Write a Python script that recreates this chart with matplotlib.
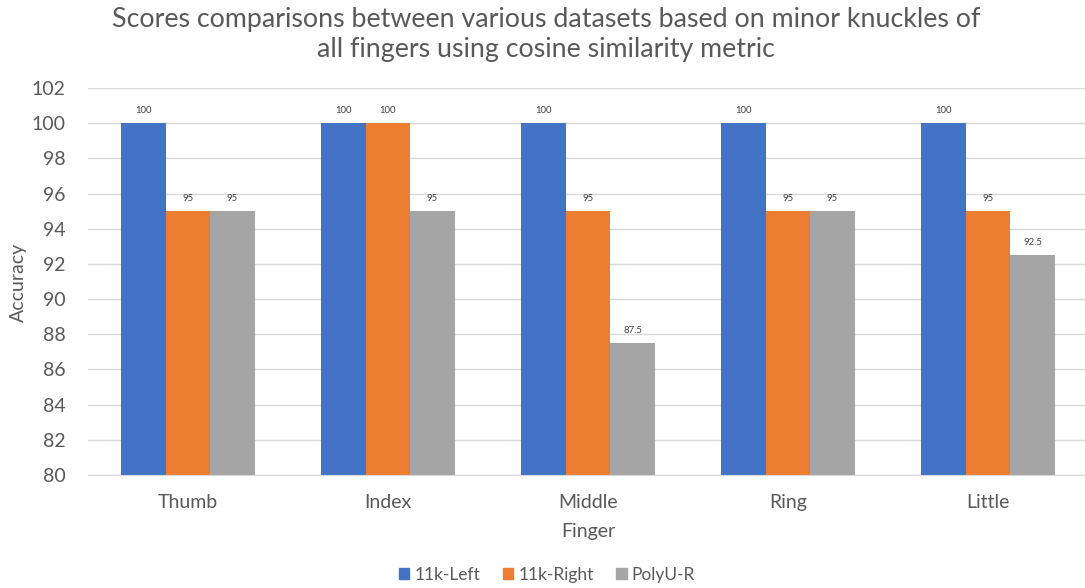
import matplotlib
matplotlib.use("Agg")
import matplotlib.pyplot as plt
import numpy as np

categories = ["Thumb", "Index", "Middle", "Ring", "Little"]
series_names = ["11k-Left", "11k-Right", "PolyU-R"]
left_vals = [100, 100, 100, 100, 100]
right_vals = [95, 100, 95, 95, 95]
polyu_vals = [95, 95, 87.5, 95, 92.5]
colors = ["#4472C4", "#ED7D31", "#A5A5A5"]
yticks = [80, 82, 84, 86, 88, 90, 92, 94, 96, 98, 100, 102]

plt.rcParams['font.family'] = ['Lato', 'DejaVu Sans']

W, H = 1085, 588
fig = plt.figure(figsize=(W / 100, H / 100), dpi=100)
ax = fig.add_axes([88 / W, 1 - 475 / H, 1000 / W, (475 - 88) / H])

x = np.arange(len(categories))
bw = 0.2225
all_vals = [left_vals, right_vals, polyu_vals]
for i, (vals, c, name) in enumerate(zip(all_vals, colors, series_names)):
    pos = x + (i - 1) * bw
    ax.bar(pos, np.array(vals) - 80, bottom=80, width=bw, color=c, label=name, zorder=3)
    for p, v in zip(pos, vals):
        lab = f"{v:g}"
        ax.text(p, v + 0.45, lab, ha="center", va="bottom", fontsize=6.8, color="#404040")

ax.set_xlim(-0.5, 4.5)
ax.set_ylim(80, 102)
ax.set_yticks(yticks)
ax.set_xticks(x)
ax.set_xticklabels(categories)
ax.tick_params(axis="both", length=0, labelsize=14, colors="#595959")
ax.tick_params(axis="x", pad=14)
ax.tick_params(axis="y", pad=16)
ax.grid(axis="y", color="#D9D9D9", linewidth=1, zorder=0)
for s in ["top", "right", "left"]:
    ax.spines[s].set_visible(False)
ax.spines["bottom"].set_color("#D9D9D9")
ax.spines["bottom"].set_zorder(4)

fig.text(18 / W, 1 - 282 / H, "Accuracy", rotation=90, ha="center", va="center", fontsize=14, color="#595959")
fig.text(588 / W, 1 - 532 / H, "Finger", ha="center", va="center", fontsize=14, color="#595959")
fig.text(546 / W, 1 - 34 / H,
         "Scores comparisons between various datasets based on minor knuckles of\nall fingers using cosine similarity metric",
         ha="center", va="center", fontsize=19.3, color="#595959", linespacing=1.25)

handles = [plt.Rectangle((0, 0), 1, 1, color=c) for c in colors]
fig.legend(handles, series_names, loc="center", bbox_to_anchor=(547 / W, 1 - 575 / H), ncol=3,
           frameon=False, fontsize=12.5, handlelength=0.6, handleheight=0.6, handletextpad=0.3,
           columnspacing=1.3, labelcolor="#595959")

fig.savefig("out.png", dpi=100)
